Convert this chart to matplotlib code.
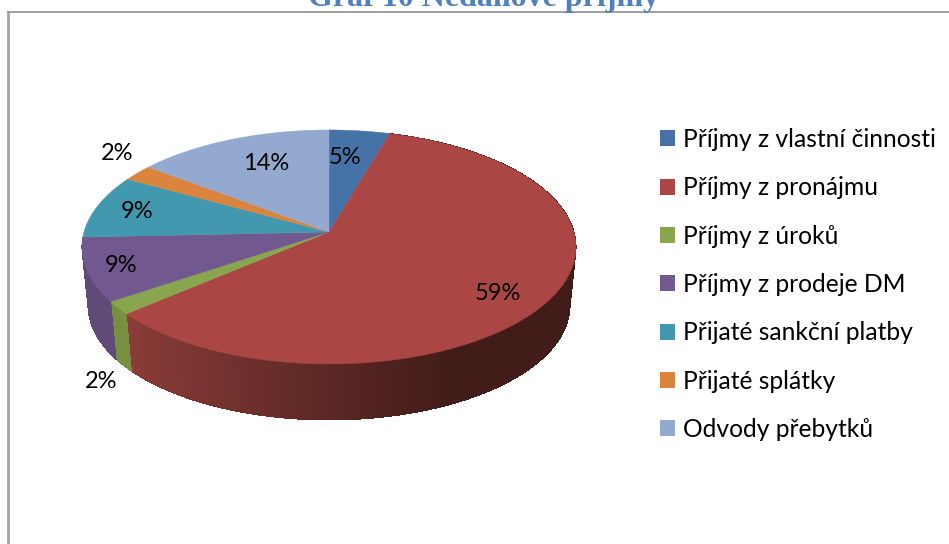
import numpy as np
import matplotlib
matplotlib.use('Agg')
import matplotlib.pyplot as plt
from matplotlib.patches import Patch

plt.rcParams['font.family'] = ['Lato', 'DejaVu Sans']

title = 'Graf 10 Nedaňové příjmy'
categories = ['Příjmy z vlastní činnosti', 'Příjmy z pronájmu', 'Příjmy z úroků',
              'Příjmy z prodeje DM', 'Přijaté sankční platby', 'Přijaté splátky',
              'Odvody přebytků']
values = [4.5, 59.2, 1.8, 8.8, 8.8, 2.3, 14.6]
pct_labels = ['5%', '59%', '2%', '9%', '9%', '2%', '14%']
label_x = [345, 498, 101, 121, 137, 117, 266]
label_y = [157, 293, 382, 266, 212, 153, 163]
colors = ['#4572a7', '#aa4643', '#89a54e', '#71588f', '#4198af', '#db843d', '#93a9cf']
# only these slices show a side wall
wall_colors = {1: '#7a3532', 2: '#76903f', 3: '#5f4a78'}

# perspective of the pie disc, in pixels
CX, CY = 329, 232
RX, RY, K = 245, 115.1, 0.128
DEPTH_Y, DEPTH_S = 59.3, 0.975


def project(t, lower=False):
    u, v = np.sin(t), -np.cos(t)
    w = 1 - K * v
    s = DEPTH_S if lower else 1.0
    dy = DEPTH_Y if lower else 0.0
    return CX + s * RX * u / w, CY + dy + s * RY * v / w


fig = plt.figure(figsize=(9.49, 5.44), dpi=100)
ax = fig.add_axes([0, 0, 1, 1])
ax.set_xlim(0, 949)
ax.set_ylim(544, 0)
ax.axis('off')

# chart frame
ax.plot([8, 8], [544, 11.5], color='#a6a6a6', lw=2.0, zorder=1, solid_capstyle='butt')
ax.plot([7, 949], [12, 12], color='#868686', lw=1.1, zorder=1, solid_capstyle='butt')

edges = np.radians(np.concatenate([[0], np.cumsum(values)]) * 3.6)

# side wall first, the top covers the back part
for i, wc in wall_colors.items():
    ts = np.linspace(edges[i], edges[i + 1], max(3, int(values[i] * 4)))
    for a, b in zip(ts[:-1], ts[1:]):
        x1, y1 = project(np.array([a, b]))
        x2, y2 = project(np.array([b, a]), lower=True)
        c = wc
        if i == 1:
            g = np.interp(x1.mean(), [125, 330, 450], [0, 0.65, 1])
            c = (np.array([138, 60, 56]) * (1 - g) + np.array([66, 28, 25]) * g) / 255
        ax.fill(np.r_[x1, x2], np.r_[y1, y2], facecolor=c, edgecolor='none',
                antialiased=False, zorder=2)

# top surface
for i in range(len(values)):
    t = np.linspace(edges[i], edges[i + 1], 120)
    x, y = project(t)
    ax.fill(np.r_[CX, x], np.r_[CY, y], color=colors[i], lw=0.3, zorder=3)

for s, x, y in zip(pct_labels, label_x, label_y):
    ax.text(x, y, s, fontsize=17, color='black', ha='center', va='center', zorder=4)

handles = [Patch(facecolor=c, edgecolor='none', label=n) for c, n in zip(colors, categories)]
ax.legend(handles=handles, loc='upper left', bbox_to_anchor=(660 / 949, 1 - 128 / 544),
          frameon=False, fontsize=17.7, labelspacing=1.03, handlelength=0.62,
          handleheight=0.62, handletextpad=0.3, borderpad=0, borderaxespad=0)

ax.text(484, 6, title, family='Liberation Serif', fontweight='bold', fontsize=23,
        color='#4f81bd', ha='center', va='baseline', zorder=5)

fig.savefig('out.png', dpi=100)
